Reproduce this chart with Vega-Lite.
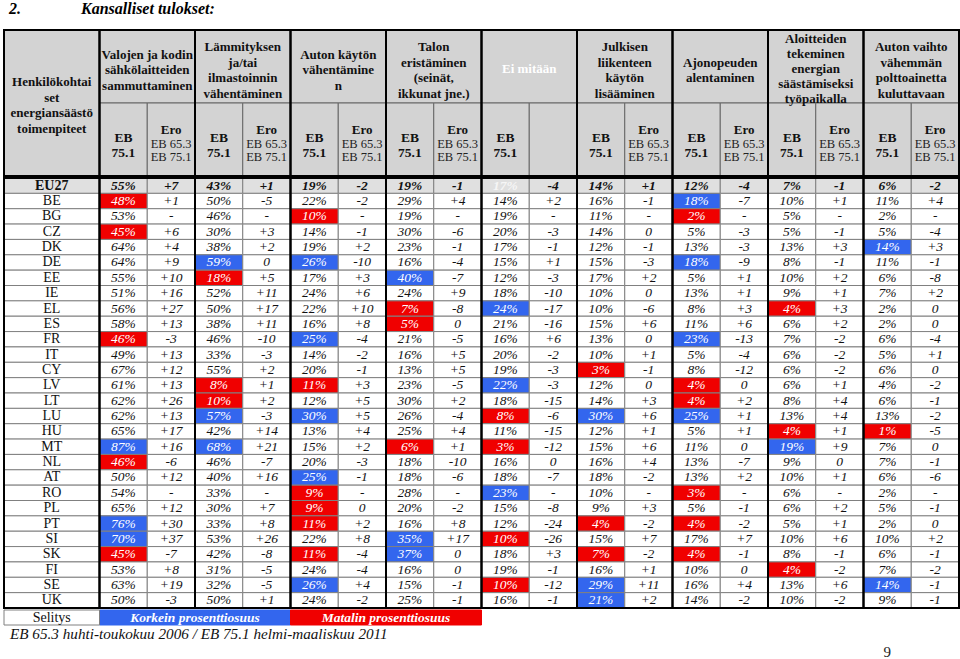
{
"$schema": "https://vega.github.io/schema/vega-lite/v6.json",
"padding": {"left": 3, "top": 1, "right": 2, "bottom": 0},
"title": {"text": "2.\u00a0\u00a0\u00a0\u00a0\u00a0\u00a0\u00a0\u00a0\u00a0\u00a0\u00a0\u00a0\u00a0\u00a0\u00a0Kansalliset tulokset:", "anchor": "start", "font": "Liberation Serif", "fontSize": 16, "fontStyle": "italic", "fontWeight": "bold", "color": "#000", "dx": 6, "offset": 12},
"spacing": 0,
"config": {"view": {"stroke": null}, "text": {"font": "Liberation Serif"}},
"resolve": {"scale": {"x": "independent", "y": "independent"}},
"datasets": {
"cats": [{"c":"label"},{"c":"c1"},{"c":"c2"},{"c":"c3"},{"c":"c4"},{"c":"c5"},{"c":"c6"},{"c":"c7"},{"c":"c8"},{"c":"c9"}],
"hcat": [
{"c":"c1","t":"Valojen ja kodin\nsähkölaitteiden\nsammuttaminen"},
{"c":"c2","t":"Lämmityksen\nja/tai\nilmastoinnin\nvähentäminen"},
{"c":"c3","t":"Auton käytön\nvähentämine\nn"},
{"c":"c4","t":"Talon\neristäminen\n(seinät,\nikkunat jne.)"},
{"c":"c5","t":"Ei mitään","w":1},
{"c":"c6","t":"Julkisen\nliikenteen\nkäytön\nlisääminen"},
{"c":"c7","t":"Ajonopeuden\nalentaminen"},
{"c":"c8","t":"Aloitteiden\ntekeminen\nenergian\nsäästämiseksi\ntyöpaikalla"},
{"c":"c9","t":"Auton vaihto\nvähemmän\npolttoainetta\nkuluttavaan"}],
"hsub": [
{"c":"c1","s":"EB"},{"c":"c1","s":"Ero"},{"c":"c2","s":"EB"},{"c":"c2","s":"Ero"},{"c":"c3","s":"EB"},{"c":"c3","s":"Ero"},
{"c":"c4","s":"EB"},{"c":"c4","s":"Ero"},{"c":"c5","s":"EB"},{"c":"c5","s":"Ero"},{"c":"c6","s":"EB"},{"c":"c6","s":"Ero"},
{"c":"c7","s":"EB"},{"c":"c7","s":"Ero"},{"c":"c8","s":"EB"},{"c":"c8","s":"Ero"},{"c":"c9","s":"EB"},{"c":"c9","s":"Ero"}],
"rows": [{"r":"EU27"},{"r":"BE"},{"r":"BG"},{"r":"CZ"},{"r":"DK"},{"r":"DE"},{"r":"EE"},{"r":"IE"},{"r":"EL"},{"r":"ES"},{"r":"FR"},{"r":"IT"},{"r":"CY"},{"r":"LV"},{"r":"LT"},{"r":"LU"},{"r":"HU"},{"r":"MT"},{"r":"NL"},{"r":"AT"},{"r":"RO"},{"r":"PL"},{"r":"PT"},{"r":"SI"},{"r":"SK"},{"r":"FI"},{"r":"SE"},{"r":"UK"}],
"legend": [{"c":"c1","k":"B"},{"c":"c2","k":"B"},{"c":"c3","k":"R"},{"c":"c4","k":"R"}],
"legendText": [{"c":"c2","t":"Korkein prosenttiosuus"},{"c":"c4","t":"Matalin prosenttiosuus"}],
"cells": [
{"r":"EU27","c":"c1","s":"EB","v":"55%"},{"r":"EU27","c":"c1","s":"Ero","v":"+7"},{"r":"EU27","c":"c2","s":"EB","v":"43%"},{"r":"EU27","c":"c2","s":"Ero","v":"+1"},{"r":"EU27","c":"c3","s":"EB","v":"19%"},{"r":"EU27","c":"c3","s":"Ero","v":"-2"},{"r":"EU27","c":"c4","s":"EB","v":"19%"},{"r":"EU27","c":"c4","s":"Ero","v":"-1"},{"r":"EU27","c":"c5","s":"EB","v":"17%","h":"W"},{"r":"EU27","c":"c5","s":"Ero","v":"-4"},{"r":"EU27","c":"c6","s":"EB","v":"14%"},{"r":"EU27","c":"c6","s":"Ero","v":"+1"},{"r":"EU27","c":"c7","s":"EB","v":"12%"},{"r":"EU27","c":"c7","s":"Ero","v":"-4"},{"r":"EU27","c":"c8","s":"EB","v":"7%"},{"r":"EU27","c":"c8","s":"Ero","v":"-1"},{"r":"EU27","c":"c9","s":"EB","v":"6%"},{"r":"EU27","c":"c9","s":"Ero","v":"-2"},
{"r":"BE","c":"c1","s":"EB","v":"48%","h":"R"},{"r":"BE","c":"c1","s":"Ero","v":"+1"},{"r":"BE","c":"c2","s":"EB","v":"50%"},{"r":"BE","c":"c2","s":"Ero","v":"-5"},{"r":"BE","c":"c3","s":"EB","v":"22%"},{"r":"BE","c":"c3","s":"Ero","v":"-2"},{"r":"BE","c":"c4","s":"EB","v":"29%"},{"r":"BE","c":"c4","s":"Ero","v":"+4"},{"r":"BE","c":"c5","s":"EB","v":"14%"},{"r":"BE","c":"c5","s":"Ero","v":"+2"},{"r":"BE","c":"c6","s":"EB","v":"16%"},{"r":"BE","c":"c6","s":"Ero","v":"-1"},{"r":"BE","c":"c7","s":"EB","v":"18%","h":"B"},{"r":"BE","c":"c7","s":"Ero","v":"-7"},{"r":"BE","c":"c8","s":"EB","v":"10%"},{"r":"BE","c":"c8","s":"Ero","v":"+1"},{"r":"BE","c":"c9","s":"EB","v":"11%"},{"r":"BE","c":"c9","s":"Ero","v":"+4"},
{"r":"BG","c":"c1","s":"EB","v":"53%"},{"r":"BG","c":"c1","s":"Ero","v":"-"},{"r":"BG","c":"c2","s":"EB","v":"46%"},{"r":"BG","c":"c2","s":"Ero","v":"-"},{"r":"BG","c":"c3","s":"EB","v":"10%","h":"R"},{"r":"BG","c":"c3","s":"Ero","v":"-"},{"r":"BG","c":"c4","s":"EB","v":"19%"},{"r":"BG","c":"c4","s":"Ero","v":"-"},{"r":"BG","c":"c5","s":"EB","v":"19%"},{"r":"BG","c":"c5","s":"Ero","v":"-"},{"r":"BG","c":"c6","s":"EB","v":"11%"},{"r":"BG","c":"c6","s":"Ero","v":"-"},{"r":"BG","c":"c7","s":"EB","v":"2%","h":"R"},{"r":"BG","c":"c7","s":"Ero","v":"-"},{"r":"BG","c":"c8","s":"EB","v":"5%"},{"r":"BG","c":"c8","s":"Ero","v":"-"},{"r":"BG","c":"c9","s":"EB","v":"2%"},{"r":"BG","c":"c9","s":"Ero","v":"-"},
{"r":"CZ","c":"c1","s":"EB","v":"45%","h":"R"},{"r":"CZ","c":"c1","s":"Ero","v":"+6"},{"r":"CZ","c":"c2","s":"EB","v":"30%"},{"r":"CZ","c":"c2","s":"Ero","v":"+3"},{"r":"CZ","c":"c3","s":"EB","v":"14%"},{"r":"CZ","c":"c3","s":"Ero","v":"-1"},{"r":"CZ","c":"c4","s":"EB","v":"30%"},{"r":"CZ","c":"c4","s":"Ero","v":"-6"},{"r":"CZ","c":"c5","s":"EB","v":"20%"},{"r":"CZ","c":"c5","s":"Ero","v":"-3"},{"r":"CZ","c":"c6","s":"EB","v":"14%"},{"r":"CZ","c":"c6","s":"Ero","v":"0"},{"r":"CZ","c":"c7","s":"EB","v":"5%"},{"r":"CZ","c":"c7","s":"Ero","v":"-3"},{"r":"CZ","c":"c8","s":"EB","v":"5%"},{"r":"CZ","c":"c8","s":"Ero","v":"-1"},{"r":"CZ","c":"c9","s":"EB","v":"5%"},{"r":"CZ","c":"c9","s":"Ero","v":"-4"},
{"r":"DK","c":"c1","s":"EB","v":"64%"},{"r":"DK","c":"c1","s":"Ero","v":"+4"},{"r":"DK","c":"c2","s":"EB","v":"38%"},{"r":"DK","c":"c2","s":"Ero","v":"+2"},{"r":"DK","c":"c3","s":"EB","v":"19%"},{"r":"DK","c":"c3","s":"Ero","v":"+2"},{"r":"DK","c":"c4","s":"EB","v":"23%"},{"r":"DK","c":"c4","s":"Ero","v":"-1"},{"r":"DK","c":"c5","s":"EB","v":"17%"},{"r":"DK","c":"c5","s":"Ero","v":"-1"},{"r":"DK","c":"c6","s":"EB","v":"12%"},{"r":"DK","c":"c6","s":"Ero","v":"-1"},{"r":"DK","c":"c7","s":"EB","v":"13%"},{"r":"DK","c":"c7","s":"Ero","v":"-3"},{"r":"DK","c":"c8","s":"EB","v":"13%"},{"r":"DK","c":"c8","s":"Ero","v":"+3"},{"r":"DK","c":"c9","s":"EB","v":"14%","h":"B"},{"r":"DK","c":"c9","s":"Ero","v":"+3"},
{"r":"DE","c":"c1","s":"EB","v":"64%"},{"r":"DE","c":"c1","s":"Ero","v":"+9"},{"r":"DE","c":"c2","s":"EB","v":"59%","h":"B"},{"r":"DE","c":"c2","s":"Ero","v":"0"},{"r":"DE","c":"c3","s":"EB","v":"26%","h":"B"},{"r":"DE","c":"c3","s":"Ero","v":"-10"},{"r":"DE","c":"c4","s":"EB","v":"16%"},{"r":"DE","c":"c4","s":"Ero","v":"-4"},{"r":"DE","c":"c5","s":"EB","v":"15%"},{"r":"DE","c":"c5","s":"Ero","v":"+1"},{"r":"DE","c":"c6","s":"EB","v":"15%"},{"r":"DE","c":"c6","s":"Ero","v":"-3"},{"r":"DE","c":"c7","s":"EB","v":"18%","h":"B"},{"r":"DE","c":"c7","s":"Ero","v":"-9"},{"r":"DE","c":"c8","s":"EB","v":"8%"},{"r":"DE","c":"c8","s":"Ero","v":"-1"},{"r":"DE","c":"c9","s":"EB","v":"11%"},{"r":"DE","c":"c9","s":"Ero","v":"-1"},
{"r":"EE","c":"c1","s":"EB","v":"55%"},{"r":"EE","c":"c1","s":"Ero","v":"+10"},{"r":"EE","c":"c2","s":"EB","v":"18%","h":"R"},{"r":"EE","c":"c2","s":"Ero","v":"+5"},{"r":"EE","c":"c3","s":"EB","v":"17%"},{"r":"EE","c":"c3","s":"Ero","v":"+3"},{"r":"EE","c":"c4","s":"EB","v":"40%","h":"B"},{"r":"EE","c":"c4","s":"Ero","v":"-7"},{"r":"EE","c":"c5","s":"EB","v":"12%"},{"r":"EE","c":"c5","s":"Ero","v":"-3"},{"r":"EE","c":"c6","s":"EB","v":"17%"},{"r":"EE","c":"c6","s":"Ero","v":"+2"},{"r":"EE","c":"c7","s":"EB","v":"5%"},{"r":"EE","c":"c7","s":"Ero","v":"+1"},{"r":"EE","c":"c8","s":"EB","v":"10%"},{"r":"EE","c":"c8","s":"Ero","v":"+2"},{"r":"EE","c":"c9","s":"EB","v":"6%"},{"r":"EE","c":"c9","s":"Ero","v":"-8"},
{"r":"IE","c":"c1","s":"EB","v":"51%"},{"r":"IE","c":"c1","s":"Ero","v":"+16"},{"r":"IE","c":"c2","s":"EB","v":"52%"},{"r":"IE","c":"c2","s":"Ero","v":"+11"},{"r":"IE","c":"c3","s":"EB","v":"24%"},{"r":"IE","c":"c3","s":"Ero","v":"+6"},{"r":"IE","c":"c4","s":"EB","v":"24%"},{"r":"IE","c":"c4","s":"Ero","v":"+9"},{"r":"IE","c":"c5","s":"EB","v":"18%"},{"r":"IE","c":"c5","s":"Ero","v":"-10"},{"r":"IE","c":"c6","s":"EB","v":"10%"},{"r":"IE","c":"c6","s":"Ero","v":"0"},{"r":"IE","c":"c7","s":"EB","v":"13%"},{"r":"IE","c":"c7","s":"Ero","v":"+1"},{"r":"IE","c":"c8","s":"EB","v":"9%"},{"r":"IE","c":"c8","s":"Ero","v":"+1"},{"r":"IE","c":"c9","s":"EB","v":"7%"},{"r":"IE","c":"c9","s":"Ero","v":"+2"},
{"r":"EL","c":"c1","s":"EB","v":"56%"},{"r":"EL","c":"c1","s":"Ero","v":"+27"},{"r":"EL","c":"c2","s":"EB","v":"50%"},{"r":"EL","c":"c2","s":"Ero","v":"+17"},{"r":"EL","c":"c3","s":"EB","v":"22%"},{"r":"EL","c":"c3","s":"Ero","v":"+10"},{"r":"EL","c":"c4","s":"EB","v":"7%","h":"R"},{"r":"EL","c":"c4","s":"Ero","v":"-8"},{"r":"EL","c":"c5","s":"EB","v":"24%","h":"B"},{"r":"EL","c":"c5","s":"Ero","v":"-17"},{"r":"EL","c":"c6","s":"EB","v":"10%"},{"r":"EL","c":"c6","s":"Ero","v":"-6"},{"r":"EL","c":"c7","s":"EB","v":"8%"},{"r":"EL","c":"c7","s":"Ero","v":"+3"},{"r":"EL","c":"c8","s":"EB","v":"4%","h":"R"},{"r":"EL","c":"c8","s":"Ero","v":"+3"},{"r":"EL","c":"c9","s":"EB","v":"2%"},{"r":"EL","c":"c9","s":"Ero","v":"0"},
{"r":"ES","c":"c1","s":"EB","v":"58%"},{"r":"ES","c":"c1","s":"Ero","v":"+13"},{"r":"ES","c":"c2","s":"EB","v":"38%"},{"r":"ES","c":"c2","s":"Ero","v":"+11"},{"r":"ES","c":"c3","s":"EB","v":"16%"},{"r":"ES","c":"c3","s":"Ero","v":"+8"},{"r":"ES","c":"c4","s":"EB","v":"5%","h":"R"},{"r":"ES","c":"c4","s":"Ero","v":"0"},{"r":"ES","c":"c5","s":"EB","v":"21%"},{"r":"ES","c":"c5","s":"Ero","v":"-16"},{"r":"ES","c":"c6","s":"EB","v":"15%"},{"r":"ES","c":"c6","s":"Ero","v":"+6"},{"r":"ES","c":"c7","s":"EB","v":"11%"},{"r":"ES","c":"c7","s":"Ero","v":"+6"},{"r":"ES","c":"c8","s":"EB","v":"6%"},{"r":"ES","c":"c8","s":"Ero","v":"+2"},{"r":"ES","c":"c9","s":"EB","v":"2%"},{"r":"ES","c":"c9","s":"Ero","v":"0"},
{"r":"FR","c":"c1","s":"EB","v":"46%","h":"R"},{"r":"FR","c":"c1","s":"Ero","v":"-3"},{"r":"FR","c":"c2","s":"EB","v":"46%"},{"r":"FR","c":"c2","s":"Ero","v":"-10"},{"r":"FR","c":"c3","s":"EB","v":"25%","h":"B"},{"r":"FR","c":"c3","s":"Ero","v":"-4"},{"r":"FR","c":"c4","s":"EB","v":"21%"},{"r":"FR","c":"c4","s":"Ero","v":"-5"},{"r":"FR","c":"c5","s":"EB","v":"16%"},{"r":"FR","c":"c5","s":"Ero","v":"+6"},{"r":"FR","c":"c6","s":"EB","v":"13%"},{"r":"FR","c":"c6","s":"Ero","v":"0"},{"r":"FR","c":"c7","s":"EB","v":"23%","h":"B"},{"r":"FR","c":"c7","s":"Ero","v":"-13"},{"r":"FR","c":"c8","s":"EB","v":"7%"},{"r":"FR","c":"c8","s":"Ero","v":"-2"},{"r":"FR","c":"c9","s":"EB","v":"6%"},{"r":"FR","c":"c9","s":"Ero","v":"-4"},
{"r":"IT","c":"c1","s":"EB","v":"49%"},{"r":"IT","c":"c1","s":"Ero","v":"+13"},{"r":"IT","c":"c2","s":"EB","v":"33%"},{"r":"IT","c":"c2","s":"Ero","v":"-3"},{"r":"IT","c":"c3","s":"EB","v":"14%"},{"r":"IT","c":"c3","s":"Ero","v":"-2"},{"r":"IT","c":"c4","s":"EB","v":"16%"},{"r":"IT","c":"c4","s":"Ero","v":"+5"},{"r":"IT","c":"c5","s":"EB","v":"20%"},{"r":"IT","c":"c5","s":"Ero","v":"-2"},{"r":"IT","c":"c6","s":"EB","v":"10%"},{"r":"IT","c":"c6","s":"Ero","v":"+1"},{"r":"IT","c":"c7","s":"EB","v":"5%"},{"r":"IT","c":"c7","s":"Ero","v":"-4"},{"r":"IT","c":"c8","s":"EB","v":"6%"},{"r":"IT","c":"c8","s":"Ero","v":"-2"},{"r":"IT","c":"c9","s":"EB","v":"5%"},{"r":"IT","c":"c9","s":"Ero","v":"+1"},
{"r":"CY","c":"c1","s":"EB","v":"67%"},{"r":"CY","c":"c1","s":"Ero","v":"+12"},{"r":"CY","c":"c2","s":"EB","v":"55%"},{"r":"CY","c":"c2","s":"Ero","v":"+2"},{"r":"CY","c":"c3","s":"EB","v":"20%"},{"r":"CY","c":"c3","s":"Ero","v":"-1"},{"r":"CY","c":"c4","s":"EB","v":"13%"},{"r":"CY","c":"c4","s":"Ero","v":"+5"},{"r":"CY","c":"c5","s":"EB","v":"19%"},{"r":"CY","c":"c5","s":"Ero","v":"-3"},{"r":"CY","c":"c6","s":"EB","v":"3%","h":"R"},{"r":"CY","c":"c6","s":"Ero","v":"-1"},{"r":"CY","c":"c7","s":"EB","v":"8%"},{"r":"CY","c":"c7","s":"Ero","v":"-12"},{"r":"CY","c":"c8","s":"EB","v":"6%"},{"r":"CY","c":"c8","s":"Ero","v":"-2"},{"r":"CY","c":"c9","s":"EB","v":"6%"},{"r":"CY","c":"c9","s":"Ero","v":"0"},
{"r":"LV","c":"c1","s":"EB","v":"61%"},{"r":"LV","c":"c1","s":"Ero","v":"+13"},{"r":"LV","c":"c2","s":"EB","v":"8%","h":"R"},{"r":"LV","c":"c2","s":"Ero","v":"+1"},{"r":"LV","c":"c3","s":"EB","v":"11%","h":"R"},{"r":"LV","c":"c3","s":"Ero","v":"+3"},{"r":"LV","c":"c4","s":"EB","v":"23%"},{"r":"LV","c":"c4","s":"Ero","v":"-5"},{"r":"LV","c":"c5","s":"EB","v":"22%","h":"B"},{"r":"LV","c":"c5","s":"Ero","v":"-3"},{"r":"LV","c":"c6","s":"EB","v":"12%"},{"r":"LV","c":"c6","s":"Ero","v":"0"},{"r":"LV","c":"c7","s":"EB","v":"4%","h":"R"},{"r":"LV","c":"c7","s":"Ero","v":"0"},{"r":"LV","c":"c8","s":"EB","v":"6%"},{"r":"LV","c":"c8","s":"Ero","v":"+1"},{"r":"LV","c":"c9","s":"EB","v":"4%"},{"r":"LV","c":"c9","s":"Ero","v":"-2"},
{"r":"LT","c":"c1","s":"EB","v":"62%"},{"r":"LT","c":"c1","s":"Ero","v":"+26"},{"r":"LT","c":"c2","s":"EB","v":"10%","h":"R"},{"r":"LT","c":"c2","s":"Ero","v":"+2"},{"r":"LT","c":"c3","s":"EB","v":"12%"},{"r":"LT","c":"c3","s":"Ero","v":"+5"},{"r":"LT","c":"c4","s":"EB","v":"30%"},{"r":"LT","c":"c4","s":"Ero","v":"+2"},{"r":"LT","c":"c5","s":"EB","v":"18%"},{"r":"LT","c":"c5","s":"Ero","v":"-15"},{"r":"LT","c":"c6","s":"EB","v":"14%"},{"r":"LT","c":"c6","s":"Ero","v":"+3"},{"r":"LT","c":"c7","s":"EB","v":"4%","h":"R"},{"r":"LT","c":"c7","s":"Ero","v":"+2"},{"r":"LT","c":"c8","s":"EB","v":"8%"},{"r":"LT","c":"c8","s":"Ero","v":"+4"},{"r":"LT","c":"c9","s":"EB","v":"6%"},{"r":"LT","c":"c9","s":"Ero","v":"-1"},
{"r":"LU","c":"c1","s":"EB","v":"62%"},{"r":"LU","c":"c1","s":"Ero","v":"+13"},{"r":"LU","c":"c2","s":"EB","v":"57%","h":"B"},{"r":"LU","c":"c2","s":"Ero","v":"-3"},{"r":"LU","c":"c3","s":"EB","v":"30%","h":"B"},{"r":"LU","c":"c3","s":"Ero","v":"+5"},{"r":"LU","c":"c4","s":"EB","v":"26%"},{"r":"LU","c":"c4","s":"Ero","v":"-4"},{"r":"LU","c":"c5","s":"EB","v":"8%","h":"R"},{"r":"LU","c":"c5","s":"Ero","v":"-6"},{"r":"LU","c":"c6","s":"EB","v":"30%","h":"B"},{"r":"LU","c":"c6","s":"Ero","v":"+6"},{"r":"LU","c":"c7","s":"EB","v":"25%","h":"B"},{"r":"LU","c":"c7","s":"Ero","v":"+1"},{"r":"LU","c":"c8","s":"EB","v":"13%"},{"r":"LU","c":"c8","s":"Ero","v":"+4"},{"r":"LU","c":"c9","s":"EB","v":"13%"},{"r":"LU","c":"c9","s":"Ero","v":"-2"},
{"r":"HU","c":"c1","s":"EB","v":"65%"},{"r":"HU","c":"c1","s":"Ero","v":"+17"},{"r":"HU","c":"c2","s":"EB","v":"42%"},{"r":"HU","c":"c2","s":"Ero","v":"+14"},{"r":"HU","c":"c3","s":"EB","v":"13%"},{"r":"HU","c":"c3","s":"Ero","v":"+4"},{"r":"HU","c":"c4","s":"EB","v":"25%"},{"r":"HU","c":"c4","s":"Ero","v":"+4"},{"r":"HU","c":"c5","s":"EB","v":"11%"},{"r":"HU","c":"c5","s":"Ero","v":"-15"},{"r":"HU","c":"c6","s":"EB","v":"12%"},{"r":"HU","c":"c6","s":"Ero","v":"+1"},{"r":"HU","c":"c7","s":"EB","v":"5%"},{"r":"HU","c":"c7","s":"Ero","v":"+1"},{"r":"HU","c":"c8","s":"EB","v":"4%","h":"R"},{"r":"HU","c":"c8","s":"Ero","v":"+1"},{"r":"HU","c":"c9","s":"EB","v":"1%","h":"R"},{"r":"HU","c":"c9","s":"Ero","v":"-5"},
{"r":"MT","c":"c1","s":"EB","v":"87%","h":"B"},{"r":"MT","c":"c1","s":"Ero","v":"+16"},{"r":"MT","c":"c2","s":"EB","v":"68%","h":"B"},{"r":"MT","c":"c2","s":"Ero","v":"+21"},{"r":"MT","c":"c3","s":"EB","v":"15%"},{"r":"MT","c":"c3","s":"Ero","v":"+2"},{"r":"MT","c":"c4","s":"EB","v":"6%","h":"R"},{"r":"MT","c":"c4","s":"Ero","v":"+1"},{"r":"MT","c":"c5","s":"EB","v":"3%","h":"R"},{"r":"MT","c":"c5","s":"Ero","v":"-12"},{"r":"MT","c":"c6","s":"EB","v":"15%"},{"r":"MT","c":"c6","s":"Ero","v":"+6"},{"r":"MT","c":"c7","s":"EB","v":"11%"},{"r":"MT","c":"c7","s":"Ero","v":"0"},{"r":"MT","c":"c8","s":"EB","v":"19%","h":"B"},{"r":"MT","c":"c8","s":"Ero","v":"+9"},{"r":"MT","c":"c9","s":"EB","v":"7%"},{"r":"MT","c":"c9","s":"Ero","v":"0"},
{"r":"NL","c":"c1","s":"EB","v":"46%","h":"R"},{"r":"NL","c":"c1","s":"Ero","v":"-6"},{"r":"NL","c":"c2","s":"EB","v":"46%"},{"r":"NL","c":"c2","s":"Ero","v":"-7"},{"r":"NL","c":"c3","s":"EB","v":"20%"},{"r":"NL","c":"c3","s":"Ero","v":"-3"},{"r":"NL","c":"c4","s":"EB","v":"18%"},{"r":"NL","c":"c4","s":"Ero","v":"-10"},{"r":"NL","c":"c5","s":"EB","v":"16%"},{"r":"NL","c":"c5","s":"Ero","v":"0"},{"r":"NL","c":"c6","s":"EB","v":"16%"},{"r":"NL","c":"c6","s":"Ero","v":"+4"},{"r":"NL","c":"c7","s":"EB","v":"13%"},{"r":"NL","c":"c7","s":"Ero","v":"-7"},{"r":"NL","c":"c8","s":"EB","v":"9%"},{"r":"NL","c":"c8","s":"Ero","v":"0"},{"r":"NL","c":"c9","s":"EB","v":"7%"},{"r":"NL","c":"c9","s":"Ero","v":"-1"},
{"r":"AT","c":"c1","s":"EB","v":"50%"},{"r":"AT","c":"c1","s":"Ero","v":"+12"},{"r":"AT","c":"c2","s":"EB","v":"40%"},{"r":"AT","c":"c2","s":"Ero","v":"+16"},{"r":"AT","c":"c3","s":"EB","v":"25%","h":"B"},{"r":"AT","c":"c3","s":"Ero","v":"-1"},{"r":"AT","c":"c4","s":"EB","v":"18%"},{"r":"AT","c":"c4","s":"Ero","v":"-6"},{"r":"AT","c":"c5","s":"EB","v":"18%"},{"r":"AT","c":"c5","s":"Ero","v":"-7"},{"r":"AT","c":"c6","s":"EB","v":"18%"},{"r":"AT","c":"c6","s":"Ero","v":"-2"},{"r":"AT","c":"c7","s":"EB","v":"13%"},{"r":"AT","c":"c7","s":"Ero","v":"+2"},{"r":"AT","c":"c8","s":"EB","v":"10%"},{"r":"AT","c":"c8","s":"Ero","v":"+1"},{"r":"AT","c":"c9","s":"EB","v":"6%"},{"r":"AT","c":"c9","s":"Ero","v":"-6"},
{"r":"RO","c":"c1","s":"EB","v":"54%"},{"r":"RO","c":"c1","s":"Ero","v":"-"},{"r":"RO","c":"c2","s":"EB","v":"33%"},{"r":"RO","c":"c2","s":"Ero","v":"-"},{"r":"RO","c":"c3","s":"EB","v":"9%","h":"R"},{"r":"RO","c":"c3","s":"Ero","v":"-"},{"r":"RO","c":"c4","s":"EB","v":"28%"},{"r":"RO","c":"c4","s":"Ero","v":"-"},{"r":"RO","c":"c5","s":"EB","v":"23%","h":"B"},{"r":"RO","c":"c5","s":"Ero","v":"-"},{"r":"RO","c":"c6","s":"EB","v":"10%"},{"r":"RO","c":"c6","s":"Ero","v":"-"},{"r":"RO","c":"c7","s":"EB","v":"3%","h":"R"},{"r":"RO","c":"c7","s":"Ero","v":"-"},{"r":"RO","c":"c8","s":"EB","v":"6%"},{"r":"RO","c":"c8","s":"Ero","v":"-"},{"r":"RO","c":"c9","s":"EB","v":"2%"},{"r":"RO","c":"c9","s":"Ero","v":"-"},
{"r":"PL","c":"c1","s":"EB","v":"65%"},{"r":"PL","c":"c1","s":"Ero","v":"+12"},{"r":"PL","c":"c2","s":"EB","v":"30%"},{"r":"PL","c":"c2","s":"Ero","v":"+7"},{"r":"PL","c":"c3","s":"EB","v":"9%","h":"R"},{"r":"PL","c":"c3","s":"Ero","v":"0"},{"r":"PL","c":"c4","s":"EB","v":"20%"},{"r":"PL","c":"c4","s":"Ero","v":"-2"},{"r":"PL","c":"c5","s":"EB","v":"15%"},{"r":"PL","c":"c5","s":"Ero","v":"-8"},{"r":"PL","c":"c6","s":"EB","v":"9%"},{"r":"PL","c":"c6","s":"Ero","v":"+3"},{"r":"PL","c":"c7","s":"EB","v":"5%"},{"r":"PL","c":"c7","s":"Ero","v":"-1"},{"r":"PL","c":"c8","s":"EB","v":"6%"},{"r":"PL","c":"c8","s":"Ero","v":"+2"},{"r":"PL","c":"c9","s":"EB","v":"5%"},{"r":"PL","c":"c9","s":"Ero","v":"-1"},
{"r":"PT","c":"c1","s":"EB","v":"76%","h":"B"},{"r":"PT","c":"c1","s":"Ero","v":"+30"},{"r":"PT","c":"c2","s":"EB","v":"33%"},{"r":"PT","c":"c2","s":"Ero","v":"+8"},{"r":"PT","c":"c3","s":"EB","v":"11%","h":"R"},{"r":"PT","c":"c3","s":"Ero","v":"+2"},{"r":"PT","c":"c4","s":"EB","v":"16%"},{"r":"PT","c":"c4","s":"Ero","v":"+8"},{"r":"PT","c":"c5","s":"EB","v":"12%"},{"r":"PT","c":"c5","s":"Ero","v":"-24"},{"r":"PT","c":"c6","s":"EB","v":"4%","h":"R"},{"r":"PT","c":"c6","s":"Ero","v":"-2"},{"r":"PT","c":"c7","s":"EB","v":"4%","h":"R"},{"r":"PT","c":"c7","s":"Ero","v":"-2"},{"r":"PT","c":"c8","s":"EB","v":"5%"},{"r":"PT","c":"c8","s":"Ero","v":"+1"},{"r":"PT","c":"c9","s":"EB","v":"2%"},{"r":"PT","c":"c9","s":"Ero","v":"0"},
{"r":"SI","c":"c1","s":"EB","v":"70%","h":"B"},{"r":"SI","c":"c1","s":"Ero","v":"+37"},{"r":"SI","c":"c2","s":"EB","v":"53%"},{"r":"SI","c":"c2","s":"Ero","v":"+26"},{"r":"SI","c":"c3","s":"EB","v":"22%"},{"r":"SI","c":"c3","s":"Ero","v":"+8"},{"r":"SI","c":"c4","s":"EB","v":"35%","h":"B"},{"r":"SI","c":"c4","s":"Ero","v":"+17"},{"r":"SI","c":"c5","s":"EB","v":"10%","h":"R"},{"r":"SI","c":"c5","s":"Ero","v":"-26"},{"r":"SI","c":"c6","s":"EB","v":"15%"},{"r":"SI","c":"c6","s":"Ero","v":"+7"},{"r":"SI","c":"c7","s":"EB","v":"17%"},{"r":"SI","c":"c7","s":"Ero","v":"+7"},{"r":"SI","c":"c8","s":"EB","v":"10%"},{"r":"SI","c":"c8","s":"Ero","v":"+6"},{"r":"SI","c":"c9","s":"EB","v":"10%"},{"r":"SI","c":"c9","s":"Ero","v":"+2"},
{"r":"SK","c":"c1","s":"EB","v":"45%","h":"R"},{"r":"SK","c":"c1","s":"Ero","v":"-7"},{"r":"SK","c":"c2","s":"EB","v":"42%"},{"r":"SK","c":"c2","s":"Ero","v":"-8"},{"r":"SK","c":"c3","s":"EB","v":"11%","h":"R"},{"r":"SK","c":"c3","s":"Ero","v":"-4"},{"r":"SK","c":"c4","s":"EB","v":"37%","h":"B"},{"r":"SK","c":"c4","s":"Ero","v":"0"},{"r":"SK","c":"c5","s":"EB","v":"18%"},{"r":"SK","c":"c5","s":"Ero","v":"+3"},{"r":"SK","c":"c6","s":"EB","v":"7%","h":"R"},{"r":"SK","c":"c6","s":"Ero","v":"-2"},{"r":"SK","c":"c7","s":"EB","v":"4%","h":"R"},{"r":"SK","c":"c7","s":"Ero","v":"-1"},{"r":"SK","c":"c8","s":"EB","v":"8%"},{"r":"SK","c":"c8","s":"Ero","v":"-1"},{"r":"SK","c":"c9","s":"EB","v":"6%"},{"r":"SK","c":"c9","s":"Ero","v":"-1"},
{"r":"FI","c":"c1","s":"EB","v":"53%"},{"r":"FI","c":"c1","s":"Ero","v":"+8"},{"r":"FI","c":"c2","s":"EB","v":"31%"},{"r":"FI","c":"c2","s":"Ero","v":"-5"},{"r":"FI","c":"c3","s":"EB","v":"24%"},{"r":"FI","c":"c3","s":"Ero","v":"-4"},{"r":"FI","c":"c4","s":"EB","v":"16%"},{"r":"FI","c":"c4","s":"Ero","v":"0"},{"r":"FI","c":"c5","s":"EB","v":"19%"},{"r":"FI","c":"c5","s":"Ero","v":"-1"},{"r":"FI","c":"c6","s":"EB","v":"16%"},{"r":"FI","c":"c6","s":"Ero","v":"+1"},{"r":"FI","c":"c7","s":"EB","v":"10%"},{"r":"FI","c":"c7","s":"Ero","v":"0"},{"r":"FI","c":"c8","s":"EB","v":"4%","h":"R"},{"r":"FI","c":"c8","s":"Ero","v":"-2"},{"r":"FI","c":"c9","s":"EB","v":"7%"},{"r":"FI","c":"c9","s":"Ero","v":"-2"},
{"r":"SE","c":"c1","s":"EB","v":"63%"},{"r":"SE","c":"c1","s":"Ero","v":"+19"},{"r":"SE","c":"c2","s":"EB","v":"32%"},{"r":"SE","c":"c2","s":"Ero","v":"-5"},{"r":"SE","c":"c3","s":"EB","v":"26%","h":"B"},{"r":"SE","c":"c3","s":"Ero","v":"+4"},{"r":"SE","c":"c4","s":"EB","v":"15%"},{"r":"SE","c":"c4","s":"Ero","v":"-1"},{"r":"SE","c":"c5","s":"EB","v":"10%","h":"R"},{"r":"SE","c":"c5","s":"Ero","v":"-12"},{"r":"SE","c":"c6","s":"EB","v":"29%","h":"B"},{"r":"SE","c":"c6","s":"Ero","v":"+11"},{"r":"SE","c":"c7","s":"EB","v":"16%"},{"r":"SE","c":"c7","s":"Ero","v":"+4"},{"r":"SE","c":"c8","s":"EB","v":"13%"},{"r":"SE","c":"c8","s":"Ero","v":"+6"},{"r":"SE","c":"c9","s":"EB","v":"14%","h":"B"},{"r":"SE","c":"c9","s":"Ero","v":"-1"},
{"r":"UK","c":"c1","s":"EB","v":"50%"},{"r":"UK","c":"c1","s":"Ero","v":"-3"},{"r":"UK","c":"c2","s":"EB","v":"50%"},{"r":"UK","c":"c2","s":"Ero","v":"+1"},{"r":"UK","c":"c3","s":"EB","v":"24%"},{"r":"UK","c":"c3","s":"Ero","v":"-2"},{"r":"UK","c":"c4","s":"EB","v":"25%"},{"r":"UK","c":"c4","s":"Ero","v":"-1"},{"r":"UK","c":"c5","s":"EB","v":"16%"},{"r":"UK","c":"c5","s":"Ero","v":"-1"},{"r":"UK","c":"c6","s":"EB","v":"21%","h":"B"},{"r":"UK","c":"c6","s":"Ero","v":"+2"},{"r":"UK","c":"c7","s":"EB","v":"14%"},{"r":"UK","c":"c7","s":"Ero","v":"-2"},{"r":"UK","c":"c8","s":"EB","v":"10%"},{"r":"UK","c":"c8","s":"Ero","v":"-2"},{"r":"UK","c":"c9","s":"EB","v":"9%"},{"r":"UK","c":"c9","s":"Ero","v":"-1"}
]
},
"vconcat": [
{
"width": 955, "height": 146,
"layer": [
{"data": {"name": "hcat"}, "mark": {"type": "rect", "fill": "#d3d3d3", "stroke": "#666", "strokeWidth": 1},
 "encoding": {"x": {"field": "c", "type": "nominal", "scale": {"domain": ["label","c1","c2","c3","c4","c5","c6","c7","c8","c9"], "paddingInner": 0, "paddingOuter": 0}, "axis": null},
  "y": {"datum": "top", "type": "nominal", "scale": {"domain": ["top","bottom"], "paddingInner": 0, "paddingOuter": 0}, "axis": null}}},
{"data": {"name": "hsub"}, "mark": {"type": "rect", "fill": "#d3d3d3", "stroke": "#666", "strokeWidth": 1},
 "encoding": {"x": {"field": "c", "type": "nominal", "axis": null},
  "xOffset": {"field": "s", "type": "nominal", "scale": {"domain": ["EB","Ero"], "paddingInner": 0, "paddingOuter": 0}},
  "y": {"datum": "bottom", "type": "nominal", "axis": null}}},
{"data": {"values": [{"c": "label"}]}, "mark": {"type": "rect", "fill": "#d3d3d3", "stroke": "#666", "strokeWidth": 1},
 "encoding": {"x": {"field": "c", "type": "nominal", "axis": null}}},
{"data": {"values": [{"c": "label", "t": "Henkilökohtai\nset\nenergiansäästö\ntoimenpiteet"}]}, "mark": {"type": "text", "fontSize": 13, "fontWeight": "bold", "lineBreak": "\n", "lineHeight": 15.5, "fill": "#111", "dy": -21},
 "encoding": {"x": {"field": "c", "type": "nominal", "axis": null}, "text": {"field": "t"}}},
{"data": {"name": "hcat"}, "transform": [{"filter": "length(split(datum.t, '\\n')) === 1"}], "mark": {"type": "text", "fontSize": 13, "fontWeight": "bold", "lineBreak": "\n", "lineHeight": 15.5, "dy": 2},
 "encoding": {"x": {"field": "c", "type": "nominal", "axis": null}, "y": {"datum": "top", "type": "nominal", "axis": null}, "text": {"field": "t"},
  "fill": {"condition": {"test": "datum.w === 1", "value": "#ffffff"}, "value": "#111111"}}},
{"data": {"name": "hcat"}, "transform": [{"filter": "length(split(datum.t, '\\n')) === 2"}], "mark": {"type": "text", "fontSize": 13, "fontWeight": "bold", "lineBreak": "\n", "lineHeight": 15.5, "fill": "#111", "dy": -4},
 "encoding": {"x": {"field": "c", "type": "nominal", "axis": null}, "y": {"datum": "top", "type": "nominal", "axis": null}, "text": {"field": "t"}}},
{"data": {"name": "hcat"}, "transform": [{"filter": "length(split(datum.t, '\\n')) === 3"}], "mark": {"type": "text", "fontSize": 13, "fontWeight": "bold", "lineBreak": "\n", "lineHeight": 15.5, "fill": "#111", "dy": -12},
 "encoding": {"x": {"field": "c", "type": "nominal", "axis": null}, "y": {"datum": "top", "type": "nominal", "axis": null}, "text": {"field": "t"}}},
{"data": {"name": "hcat"}, "transform": [{"filter": "length(split(datum.t, '\\n')) === 4"}], "mark": {"type": "text", "fontSize": 13, "fontWeight": "bold", "lineBreak": "\n", "lineHeight": 15.5, "fill": "#111", "dy": -19.5},
 "encoding": {"x": {"field": "c", "type": "nominal", "axis": null}, "y": {"datum": "top", "type": "nominal", "axis": null}, "text": {"field": "t"}}},
{"data": {"name": "hcat"}, "transform": [{"filter": "length(split(datum.t, '\\n')) === 5"}], "mark": {"type": "text", "fontSize": 13, "fontWeight": "bold", "lineBreak": "\n", "lineHeight": 15, "fill": "#111", "dy": -28},
 "encoding": {"x": {"field": "c", "type": "nominal", "axis": null}, "y": {"datum": "top", "type": "nominal", "axis": null}, "text": {"field": "t"}}},
{"data": {"name": "hsub"}, "transform": [{"filter": {"field": "s", "equal": "EB"}}], "mark": {"type": "text", "fontSize": 13.5, "fontWeight": "bold", "lineBreak": "\n", "lineHeight": 15, "fill": "#111", "dy": -2},
 "encoding": {"x": {"field": "c", "type": "nominal", "axis": null}, "xOffset": {"field": "s", "type": "nominal"}, "y": {"datum": "bottom", "type": "nominal", "axis": null}, "text": {"value": "EB\n75.1"}}},
{"data": {"name": "hsub"}, "transform": [{"filter": {"and": [{"field": "s", "equal": "Ero"}, {"not": {"field": "c", "equal": "c5"}}]}}], "mark": {"type": "text", "fontSize": 13, "fontWeight": "bold", "fill": "#111", "dy": -10},
 "encoding": {"x": {"field": "c", "type": "nominal", "axis": null}, "xOffset": {"field": "s", "type": "nominal"}, "y": {"datum": "bottom", "type": "nominal", "axis": null}, "text": {"value": "Ero"}}},
{"data": {"name": "hsub"}, "transform": [{"filter": {"and": [{"field": "s", "equal": "Ero"}, {"not": {"field": "c", "equal": "c5"}}]}}], "mark": {"type": "text", "fontSize": 12.5, "lineBreak": "\n", "lineHeight": 13.5, "fill": "#222", "dy": 4},
 "encoding": {"x": {"field": "c", "type": "nominal", "axis": null}, "xOffset": {"field": "s", "type": "nominal"}, "y": {"datum": "bottom", "type": "nominal", "axis": null}, "text": {"value": "EB 65.3\nEB 75.1"}}},
{"data": {"name": "cats"}, "mark": {"type": "rect", "filled": false, "stroke": "#000", "strokeWidth": 2},
 "encoding": {"x": {"field": "c", "type": "nominal", "axis": null}}}
]
},
{
"width": 955, "height": 430,
"layer": [
{"data": {"name": "cells"}, "mark": {"type": "rect", "stroke": "#808080", "strokeWidth": 1},
 "encoding": {"x": {"field": "c", "type": "nominal", "scale": {"domain": ["label","c1","c2","c3","c4","c5","c6","c7","c8","c9"], "paddingInner": 0, "paddingOuter": 0}, "axis": null},
  "xOffset": {"field": "s", "type": "nominal", "scale": {"domain": ["EB","Ero"], "paddingInner": 0, "paddingOuter": 0}},
  "y": {"field": "r", "type": "nominal", "sort": null, "scale": {"domain": ["EU27","BE","BG","CZ","DK","DE","EE","IE","EL","ES","FR","IT","CY","LV","LT","LU","HU","MT","NL","AT","RO","PL","PT","SI","SK","FI","SE","UK"], "paddingInner": 0, "paddingOuter": 0}, "axis": null},
  "fill": {"condition": [{"test": "datum.h === 'R'", "value": "#f00000"}, {"test": "datum.h === 'B'", "value": "#3366ee"}, {"test": "datum.r === 'EU27'", "value": "#e0e0e0"}], "value": "#ffffff"}}},
{"data": {"name": "rows"}, "mark": {"type": "rect", "stroke": "#808080", "strokeWidth": 1},
 "encoding": {"x": {"datum": "label", "type": "nominal", "axis": null}, "y": {"field": "r", "type": "nominal", "sort": null, "axis": null},
  "fill": {"condition": {"test": "datum.r === 'EU27'", "value": "#e0e0e0"}, "value": "#ffffff"}}},
{"data": {"name": "cells"}, "transform": [{"filter": {"not": {"field": "r", "equal": "EU27"}}}], "mark": {"type": "text", "fontSize": 13.5, "fontStyle": "italic"},
 "encoding": {"x": {"field": "c", "type": "nominal", "axis": null}, "xOffset": {"field": "s", "type": "nominal"}, "y": {"field": "r", "type": "nominal", "sort": null, "axis": null}, "text": {"field": "v"},
  "fill": {"condition": {"test": "datum.h", "value": "#ffffff"}, "value": "#111111"}}},
{"data": {"name": "cells"}, "transform": [{"filter": {"field": "r", "equal": "EU27"}}], "mark": {"type": "text", "fontSize": 13.5, "fontStyle": "italic", "fontWeight": "bold"},
 "encoding": {"x": {"field": "c", "type": "nominal", "axis": null}, "xOffset": {"field": "s", "type": "nominal"}, "y": {"field": "r", "type": "nominal", "sort": null, "axis": null}, "text": {"field": "v"},
  "fill": {"condition": {"test": "datum.h", "value": "#f6f6f6"}, "value": "#111111"}}},
{"data": {"name": "rows"}, "transform": [{"filter": {"not": {"field": "r", "equal": "EU27"}}}], "mark": {"type": "text", "fontSize": 14, "fill": "#111"},
 "encoding": {"x": {"datum": "label", "type": "nominal", "axis": null}, "y": {"field": "r", "type": "nominal", "sort": null, "axis": null}, "text": {"field": "r"}}},
{"data": {"name": "rows"}, "transform": [{"filter": {"field": "r", "equal": "EU27"}}], "mark": {"type": "text", "fontSize": 14, "fontWeight": "bold", "fill": "#111"},
 "encoding": {"x": {"datum": "label", "type": "nominal", "axis": null}, "y": {"field": "r", "type": "nominal", "sort": null, "axis": null}, "text": {"field": "r"}}},
{"data": {"name": "cats"}, "mark": {"type": "rect", "filled": false, "stroke": "#000", "strokeWidth": 2},
 "encoding": {"x": {"field": "c", "type": "nominal", "axis": null}}}
]
},
{
"width": 955, "height": 15,
"layer": [
{"data": {"name": "legend"}, "mark": {"type": "rect", "strokeWidth": 1},
 "encoding": {"x": {"field": "c", "type": "nominal", "scale": {"domain": ["label","c1","c2","c3","c4","c5","c6","c7","c8","c9"], "paddingInner": 0, "paddingOuter": 0}, "axis": null},
  "fill": {"condition": {"test": "datum.k === 'B'", "value": "#3366ee"}, "value": "#f00000"},
  "stroke": {"condition": {"test": "datum.k === 'B'", "value": "#3366ee"}, "value": "#f00000"}}},
{"data": {"values": [{"c": "label"}]}, "mark": {"type": "rect", "fill": "#ffffff", "stroke": "#808080", "strokeWidth": 1},
 "encoding": {"x": {"field": "c", "type": "nominal", "axis": null}}},
{"data": {"values": [{"c": "label"}]}, "mark": {"type": "text", "fontSize": 14, "fill": "#111"},
 "encoding": {"x": {"field": "c", "type": "nominal", "axis": null}, "text": {"value": "Selitys"}}},
{"data": {"name": "legendText"}, "mark": {"type": "text", "fontSize": 13.5, "fontStyle": "italic", "fontWeight": "bold", "fill": "#ffffff"},
 "encoding": {"x": {"field": "c", "type": "nominal", "bandPosition": 0, "axis": null}, "text": {"field": "t"}}},
{"data": {"values": [{"c": "label"}]}, "mark": {"type": "text", "fontSize": 15.2, "fontStyle": "italic", "fill": "#111", "align": "left", "dx": 6, "dy": 16},
 "encoding": {"x": {"field": "c", "type": "nominal", "bandPosition": 0, "axis": null}, "text": {"value": "EB 65.3 huhti-toukokuu 2006 / EB 75.1 helmi-maaliskuu 2011"}}},
{"data": {"values": [{"c": "c9"}]}, "mark": {"type": "text", "fontSize": 15, "fill": "#222", "dy": 34, "dx": -24},
 "encoding": {"x": {"field": "c", "type": "nominal", "axis": null}, "text": {"value": "9"}}}
]
}
]
}
